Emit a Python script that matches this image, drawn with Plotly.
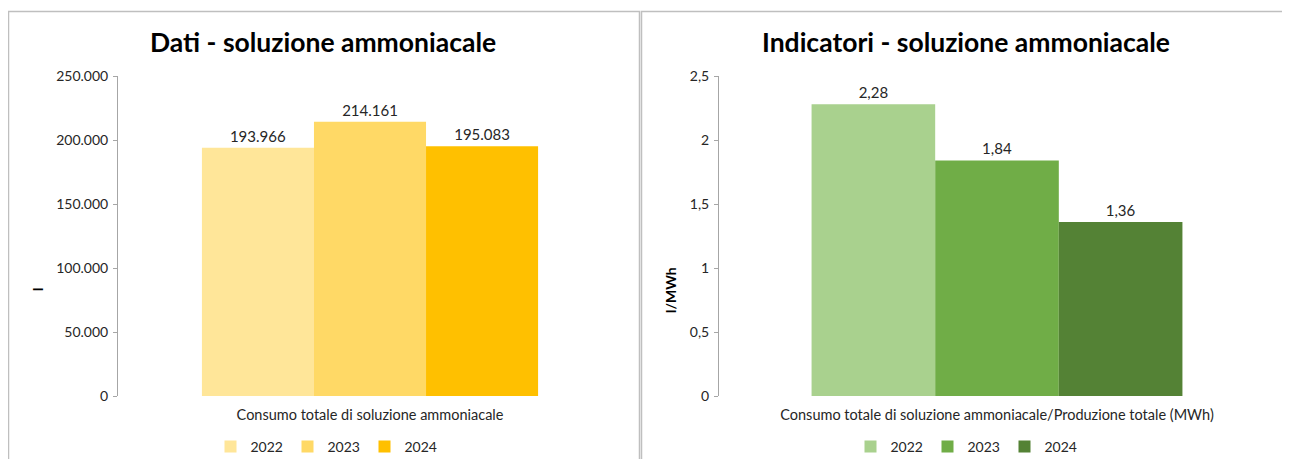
import plotly.graph_objects as go

# page body has an 8px default margin: the figure is sized/positioned to compensate
OFF = 8
W, H = 1290 - 2 * OFF, 467 - 2 * OFF

years = ["2022", "2023", "2024"]
cat_left = ["Consumo totale di soluzione ammoniacale"]
cat_right = ["Consumo totale di soluzione ammoniacale/Produzione totale (MWh)"]
vals_left = [193966, 214161, 195083]
vals_right = [2.28, 1.84, 1.36]
colors_left = ["#FFE699", "#FFD966", "#FFC000"]
colors_right = ["#A9D18E", "#70AD47", "#548235"]
title_left = "Dati - soluzione ammoniacale"
title_right = "Indicatori - soluzione ammoniacale"
ytitle_left = "l"
ytitle_right = "l/MWh"

FONT = "Lato, 'Open Sans', sans-serif"
TXT = "#262626"

def px(x):
    return (x - OFF) / W

def py(y):
    return 1 - (y - OFF) / H

fig = go.Figure()
for i, yr in enumerate(years):
    fig.add_trace(go.Bar(
        x=cat_left, y=[vals_left[i]], name=yr, marker_color=colors_left[i],
        marker_line_width=0, texttemplate="%{y:,d}", textposition="outside",
        textfont=dict(size=15, color=TXT, family=FONT), cliponaxis=False,
        xaxis="x", yaxis="y", legend="legend", offsetgroup=str(i),
    ))
for i, yr in enumerate(years):
    fig.add_trace(go.Bar(
        x=cat_right, y=[vals_right[i]], name=yr, marker_color=colors_right[i],
        marker_line_width=0, texttemplate="%{y:.2f}", textposition="outside",
        textfont=dict(size=15, color=TXT, family=FONT), cliponaxis=False,
        xaxis="x2", yaxis="y2", legend="legend2", offsetgroup=str(i),
    ))

axis_col = "#A6A6A6"
ydom = [py(396), py(76)]

common_x = dict(showline=False, ticks="", tickfont=dict(size=14.5, color=TXT, family=FONT),
                ticklabelstandoff=8, showgrid=False, zeroline=False, fixedrange=True,
                automargin=False)
common_y = dict(showline=True, linecolor=axis_col, linewidth=1, ticks="outside", ticklen=4,
                tickcolor=axis_col, tickfont=dict(size=14, color=TXT, family=FONT),
                showgrid=False, zeroline=False, domain=ydom, ticklabelstandoff=2,
                automargin=False)

leg_common = dict(orientation="h", xanchor="center", y=py(447), yanchor="middle",
                  font=dict(size=14, color=TXT, family=FONT), itemwidth=30,
                  entrywidth=32, entrywidthmode="pixels",
                  bgcolor="rgba(0,0,0,0)", tracegroupgap=0)

fig.update_layout(
    width=W, height=H,
    margin=dict(l=0, r=0, t=0, b=0, autoexpand=False),
    paper_bgcolor="white", plot_bgcolor="white",
    separators=",.",
    barmode="group", bargap=0.333, bargroupgap=0,
    font=dict(family=FONT, color=TXT),
    xaxis=dict(domain=[px(118), px(622)], anchor="y", **common_x),
    yaxis=dict(anchor="x", range=[0, 250000], dtick=50000, tickformat=",d", **common_y),
    xaxis2=dict(domain=[px(719), px(1275)], anchor="y2", **common_x),
    yaxis2=dict(anchor="x2", range=[0, 2.5], dtick=0.5, **common_y),
    legend=dict(x=px(326), **leg_common),
    legend2=dict(x=px(966), **leg_common),
    showlegend=True,
    shapes=[
        dict(type="rect", xref="paper", yref="paper", x0=px(8.5), x1=px(639.5), y0=py(490), y1=py(11.5),
             line=dict(color="#BFBFBF", width=1.5), fillcolor="rgba(0,0,0,0)", layer="below"),
        dict(type="rect", xref="paper", yref="paper", x0=px(641.5), x1=px(1310), y0=py(490), y1=py(11.5),
             line=dict(color="#BFBFBF", width=1.5), fillcolor="rgba(0,0,0,0)", layer="below"),
    ],
    annotations=[
        dict(text="<b>" + title_left + "</b>", x=px(323), y=py(42), xref="paper", yref="paper",
             xanchor="center", yanchor="middle", showarrow=False,
             font=dict(size=26.5, color="#000000", family=FONT)),
        dict(text="<b>" + title_right + "</b>", x=px(966), y=py(42), xref="paper", yref="paper",
             xanchor="center", yanchor="middle", showarrow=False,
             font=dict(size=26.5, color="#000000", family=FONT)),
        dict(text="<b>" + ytitle_left + "</b>", x=px(37), y=py(290), xref="paper", yref="paper",
             xanchor="center", yanchor="middle", showarrow=False, textangle=-90,
             font=dict(size=14, color="#000000", family=FONT)),
        dict(text="<b>" + ytitle_right + "</b>", x=px(670), y=py(290), xref="paper", yref="paper",
             xanchor="center", yanchor="middle", showarrow=False, textangle=-90,
             font=dict(size=14, color="#000000", family=FONT)),
    ],
)

fig.write_html("out.html")
